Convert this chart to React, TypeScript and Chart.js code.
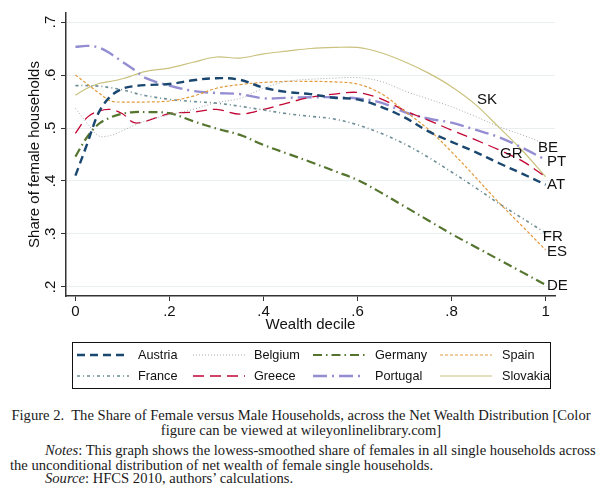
import React, { useEffect, useRef } from "react";
import { Chart, registerables } from "chart.js";

Chart.register(...registerables);

// ---------- data ----------
const wealthDecile = [0, 0.025, 0.05, 0.075, 0.1, 0.125, 0.15, 0.2, 0.25, 0.3, 0.35, 0.4, 0.45, 0.5, 0.55, 0.6, 0.65, 0.7, 0.75, 0.8, 0.85, 0.9, 0.95, 1.0];

const austria = [0.41, 0.47, 0.53, 0.56, 0.574, 0.579, 0.581, 0.583, 0.59, 0.594, 0.591, 0.576, 0.568, 0.564, 0.557, 0.554, 0.54, 0.52, 0.494, 0.474, 0.455, 0.434, 0.414, 0.393];
const belgium = [0.537, 0.509, 0.485, 0.486, 0.495, 0.505, 0.514, 0.525, 0.535, 0.548, 0.556, 0.575, 0.588, 0.592, 0.594, 0.595, 0.588, 0.57, 0.555, 0.54, 0.522, 0.503, 0.487, 0.47];
const germany = [0.446, 0.483, 0.508, 0.52, 0.527, 0.53, 0.53, 0.528, 0.513, 0.499, 0.487, 0.468, 0.452, 0.436, 0.419, 0.402, 0.378, 0.352, 0.326, 0.3, 0.276, 0.252, 0.228, 0.204];
const spain = [0.6, 0.583, 0.566, 0.551, 0.549, 0.549, 0.549, 0.551, 0.56, 0.575, 0.582, 0.586, 0.588, 0.588, 0.587, 0.583, 0.565, 0.532, 0.498, 0.455, 0.408, 0.36, 0.315, 0.27];
const france = [0.58, 0.58, 0.579, 0.576, 0.572, 0.566, 0.561, 0.554, 0.55, 0.547, 0.541, 0.534, 0.527, 0.522, 0.517, 0.506, 0.49, 0.47, 0.445, 0.417, 0.388, 0.358, 0.33, 0.302];
const greece = [0.49, 0.52, 0.532, 0.535, 0.527, 0.51, 0.513, 0.527, 0.53, 0.535, 0.526, 0.535, 0.547, 0.558, 0.564, 0.567, 0.555, 0.533, 0.515, 0.496, 0.478, 0.459, 0.438, 0.408];
const portugal = [0.653, 0.655, 0.652, 0.64, 0.625, 0.61, 0.594, 0.58, 0.57, 0.566, 0.564, 0.556, 0.557, 0.558, 0.558, 0.556, 0.548, 0.53, 0.518, 0.51, 0.497, 0.483, 0.463, 0.44];
const slovakia = [0.562, 0.575, 0.584, 0.588, 0.593, 0.6, 0.607, 0.613, 0.624, 0.634, 0.632, 0.64, 0.645, 0.65, 0.652, 0.652, 0.642, 0.625, 0.604, 0.578, 0.545, 0.502, 0.458, 0.408];

const countries = ["Austria", "Belgium", "Germany", "Spain", "France", "Greece", "Portugal", "Slovakia"];
const seriesValues = [austria, belgium, germany, spain, france, greece, portugal, slovakia];
const countryCodes = ["AT", "BE", "DE", "ES", "FR", "GR", "PT", "SK"];
// where each code label sits, in data units (wealth decile, share)
const codeLabelX = [1.003, 0.984, 1.003, 1.003, 0.994, 0.903, 1.003, 0.854];
const codeLabelY = [0.393, 0.4625, 0.2017, 0.2655, 0.2955, 0.451, 0.436, 0.5525];

const yTickValues = [0.2, 0.3, 0.4, 0.5, 0.6, 0.7];
const yTickLabels = [".2", ".3", ".4", ".5", ".6", ".7"];
const xTickValues = [0, 0.2, 0.4, 0.6, 0.8, 1];
const xTickLabels = ["0", ".2", ".4", ".6", ".8", "1"];

const xTitle = "Wealth decile";
const yTitle = "Share of female households";

// ---------- styles ----------
const SANS = '"Liberation Sans", Arial, Helvetica, sans-serif';
const SERIF = '"Liberation Serif", "Times New Roman", Times, serif';

const lineStyles = [
  { color: "#1a476f", width: 2.4, dash: [8, 5] },          // Austria
  { color: "#a9a9a9", width: 1, dash: [1, 2] },            // Belgium
  { color: "#55752f", width: 2.2, dash: [9, 4, 1.5, 4] },  // Germany
  { color: "#e39a3a", width: 1.2, dash: [3, 2] },          // Spain
  { color: "#6e8e96", width: 1.6, dash: [3, 3, 1, 3] },    // France
  { color: "#c10534", width: 1.3, dash: [11, 6] },         // Greece
  { color: "#938dd2", width: 2.4, dash: [14, 5, 2, 5] },   // Portugal
  { color: "#cac27e", width: 1.2, dash: [] },              // Slovakia
];

const overlayPlugin = {
  id: "overlay",
  afterDraw(chart: any) {
    const ctx = chart.ctx as CanvasRenderingContext2D;
    const xs = chart.scales.x;
    const ys = chart.scales.y;
    const ca = chart.chartArea;
    ctx.save();
    ctx.fillStyle = "#111";
    ctx.font = `15px ${SANS}`;
    ctx.textBaseline = "middle";
    ctx.textAlign = "center";
    ctx.fillText(xTitle, (ca.left + ca.right) / 2, 325);
    ctx.save();
    ctx.translate(35, (ca.top + ca.bottom) / 2);
    ctx.rotate(-Math.PI / 2);
    ctx.fillText(yTitle, 0, 0);
    ctx.restore();

    // direct country-code labels
    ctx.textAlign = "left";
    ctx.font = `15px ${SANS}`;
    countryCodes.forEach((c, i) => {
      ctx.fillText(c, xs.getPixelForValue(codeLabelX[i]), ys.getPixelForValue(codeLabelY[i]));
    });

    // legend box
    ctx.strokeStyle = "#111";
    ctx.lineWidth = 1;
    ctx.setLineDash([]);
    ctx.strokeRect(72.5, 342.5, 478, 46);
    const sampleX = [77, 193, 313, 440];
    const textX = [138, 254, 375, 502];
    const rowY = [355, 376];
    ctx.font = `12.7px ${SANS}`;
    chart.data.datasets.forEach((ds: any, i: number) => {
      const row = Math.floor(i / 4);
      const col = i % 4;
      const y = rowY[row];
      ctx.save();
      ctx.strokeStyle = ds.borderColor;
      ctx.lineWidth = ds.borderWidth;
      ctx.setLineDash(ds.borderDash || []);
      ctx.beginPath();
      ctx.moveTo(sampleX[col], y);
      ctx.lineTo(sampleX[col] + 52, y);
      ctx.stroke();
      ctx.restore();
      ctx.fillStyle = "#111";
      ctx.textAlign = "left";
      ctx.fillText(ds.label, textX[col], y);
    });
    ctx.restore();
  },
};

export default function App() {
  const canvasRef = useRef<HTMLCanvasElement | null>(null);

  useEffect(() => {
    if (!canvasRef.current) return;
    const datasets = countries.map((name, i) => ({
      label: name,
      data: wealthDecile.map((x, j) => ({ x, y: seriesValues[i][j] })),
      borderColor: lineStyles[i].color,
      borderWidth: lineStyles[i].width,
      borderDash: lineStyles[i].dash,
      backgroundColor: lineStyles[i].color,
      pointRadius: 0,
      tension: 0.35,
      fill: false,
    }));
    const chart = new Chart(canvasRef.current, {
      type: "line",
      data: { datasets },
      plugins: [overlayPlugin],
      options: {
        animation: false,
        responsive: false,
        devicePixelRatio: 1,
        layout: { padding: { top: 13, right: 50, left: 0, bottom: 0 } },
        plugins: { legend: { display: false }, tooltip: { enabled: false } },
        scales: {
          x: {
            type: "linear",
            min: -0.02,
            max: 1.02,
            afterBuildTicks: (s: any) => {
              s.ticks = xTickValues.map((v) => ({ value: v }));
            },
            afterFit: (s: any) => {
              s.height = 99;
            },
            ticks: {
              callback: (_v: any, i: number) => xTickLabels[i],
              maxRotation: 0,
              minRotation: 0,
              padding: 2,
              color: "#111",
              font: { size: 15, family: SANS },
            },
            grid: { drawOnChartArea: false, drawTicks: true, tickLength: 5, tickColor: "#333", lineWidth: 1 },
            border: { display: true, color: "#333", width: 1.5 },
          },
          y: {
            type: "linear",
            min: 0.183,
            max: 0.717,
            afterBuildTicks: (s: any) => {
              s.ticks = yTickValues.map((v) => ({ value: v }));
            },
            afterFit: (s: any) => {
              s.width = 66;
            },
            ticks: {
              callback: (_v: any, i: number) => yTickLabels[i],
              minRotation: 90,
              maxRotation: 90,
              crossAlign: "center",
              padding: 4,
              color: "#111",
              font: { size: 15, family: SANS },
            },
            grid: { color: "#e9eff1", lineWidth: 1, drawTicks: true, tickLength: 5, tickColor: "#333" },
            border: { display: true, color: "#333", width: 1.5 },
          },
        },
      },
    } as any);
    return () => chart.destroy();
  }, []);

  const lineStyle: React.CSSProperties = {
    position: "absolute",
    fontFamily: SERIF,
    fontSize: 14.6,
    lineHeight: "15px",
    color: "#1a1a1a",
    whiteSpace: "nowrap",
  };

  return (
    <div style={{ position: "absolute", left: 0, top: 0, width: 605, height: 498, background: "#fff", overflow: "hidden" }}>
      <canvas ref={canvasRef} width={605} height={395} style={{ position: "absolute", left: 0, top: 0 }} />
      <div style={{ ...lineStyle, top: 408, left: 0, width: 602, textAlign: "center" }}>
        Figure 2.&nbsp; The Share of Female versus Male Households, across the Net Wealth Distribution [Color
      </div>
      <div style={{ ...lineStyle, top: 423, left: 0, width: 602, textAlign: "center" }}>
        figure can be viewed at wileyonlinelibrary.com]
      </div>
      <div style={{ ...lineStyle, top: 443, left: 45 }}>
        <i>Notes</i>: This graph shows the lowess-smoothed share of females in all single households across
      </div>
      <div style={{ ...lineStyle, top: 458, left: 10 }}>
        the unconditional distribution of net wealth of female single households.
      </div>
      <div style={{ ...lineStyle, top: 471, left: 45 }}>
        <i>Source</i>: HFCS 2010, authors’ calculations.
      </div>
    </div>
  );
}
